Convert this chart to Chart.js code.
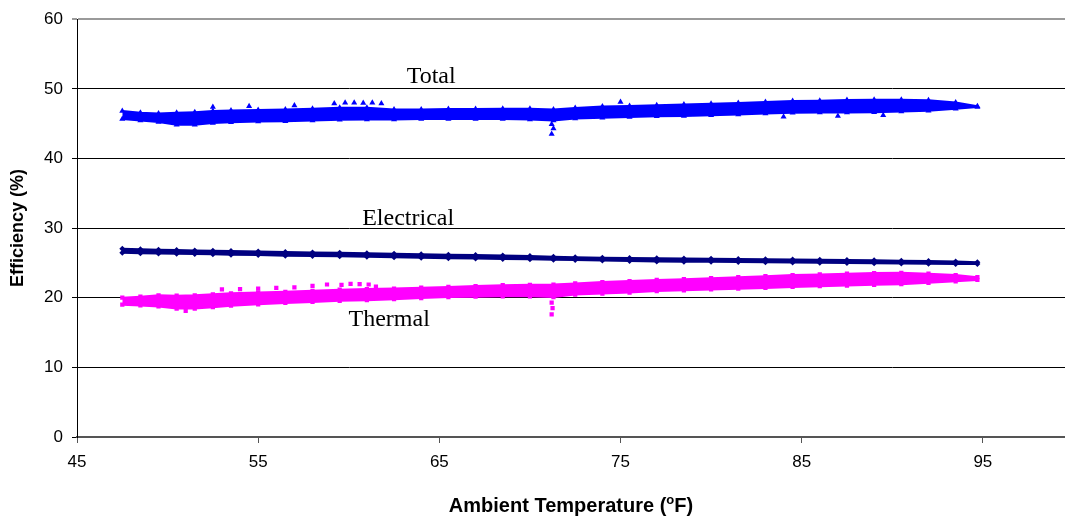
<!DOCTYPE html>
<html><head><meta charset="utf-8">
<script src="https://cdn.jsdelivr.net/npm/chart.js@4/dist/chart.umd.min.js"></script>
<style>html,body{margin:0;padding:0;background:#fff;overflow:hidden}#wrap{width:1065px;height:518px;position:relative;overflow:hidden}canvas{display:block}</style>
</head><body><div id="wrap"><canvas id="c" width="1168" height="518"></canvas></div>
<script>
// Tick labels (axis runs 45..105, the picture is cropped just before 100)
const xTickValues = [45, 55, 65, 75, 85, 95, 105];
const yTickValues = [0, 10, 20, 30, 40, 50, 60];

// Ambient temperature sample positions (°F) along the bands
const xs = [47.5, 48.5, 49.5, 50.5, 51.5, 52.5, 53.5, 55, 56.5, 58, 59.5, 61, 62.5, 64, 65.5, 67, 68.5, 70, 71.3, 72.5, 74, 75.5, 77, 78.5, 80, 81.5, 83, 84.5, 86, 87.5, 89, 90.5, 92, 93.5, 94.7];

// Total efficiency band (upper / lower edge, %)
const totalHi = [46.8, 46.55, 46.45, 46.55, 46.65, 46.8, 46.9, 46.95, 47.05, 47.15, 47.3, 47.3, 47.05, 47.05, 47.1, 47.1, 47.15, 47.15, 47.05, 47.25, 47.45, 47.55, 47.65, 47.75, 47.85, 47.95, 48.1, 48.25, 48.3, 48.4, 48.45, 48.45, 48.35, 48.05, 47.5];
const totalLo = [45.65, 45.45, 45.25, 44.85, 44.85, 45.1, 45.2, 45.3, 45.35, 45.45, 45.55, 45.6, 45.6, 45.65, 45.65, 45.65, 45.65, 45.6, 45.45, 45.75, 45.85, 45.95, 46.05, 46.1, 46.2, 46.3, 46.45, 46.55, 46.6, 46.6, 46.65, 46.75, 46.85, 47.15, 47.4];
const totalOutX = [52.5, 54.5, 57, 59.2, 59.8, 60.3, 60.8, 61.3, 61.8, 75, 84, 87, 89.5, 71.2, 71.3, 71.2];
const totalOutY = [47.4, 47.5, 47.6, 47.9, 48.0, 48.0, 47.95, 48.0, 47.9, 48.1, 46.0, 46.1, 46.2, 44.9, 44.3, 43.5];

// Electrical efficiency band (upper / lower edge, %)
const elecHi = [27.05, 26.95, 26.9, 26.85, 26.8, 26.75, 26.7, 26.63, 26.55, 26.5, 26.45, 26.4, 26.33, 26.25, 26.18, 26.12, 26.05, 26.0, 25.9, 25.83, 25.75, 25.7, 25.67, 25.63, 25.6, 25.57, 25.54, 25.5, 25.45, 25.41, 25.37, 25.32, 25.27, 25.22, 25.1];
const elecLo = [26.45, 26.4, 26.35, 26.33, 26.29, 26.23, 26.18, 26.12, 26.04, 25.99, 25.94, 25.9, 25.81, 25.75, 25.67, 25.62, 25.57, 25.53, 25.47, 25.41, 25.33, 25.27, 25.22, 25.18, 25.15, 25.12, 25.08, 25.05, 25.02, 24.99, 24.95, 24.92, 24.89, 24.86, 24.85];

// Thermal efficiency band (upper / lower edge, %)
const thermHi = [20.0, 20.15, 20.35, 20.3, 20.35, 20.5, 20.63, 20.75, 20.85, 21.0, 21.15, 21.25, 21.32, 21.45, 21.55, 21.67, 21.8, 21.85, 21.9, 22.05, 22.25, 22.4, 22.55, 22.67, 22.8, 22.95, 23.1, 23.25, 23.35, 23.45, 23.55, 23.57, 23.45, 23.25, 22.95];
const thermLo = [19.0, 18.9, 18.75, 18.45, 18.45, 18.65, 18.85, 19.05, 19.25, 19.4, 19.55, 19.65, 19.8, 19.95, 20.1, 20.15, 20.2, 20.2, 20.1, 20.45, 20.6, 20.75, 20.95, 21.07, 21.2, 21.3, 21.4, 21.55, 21.65, 21.75, 21.85, 21.95, 22.15, 22.35, 22.55];
const thermOutX = [53, 54, 55, 56, 57, 58, 58.8, 59.6, 60.1, 60.6, 61.1, 61.5, 51, 71.2, 71.25, 71.2];
const thermOutY = [21.2, 21.25, 21.3, 21.4, 21.5, 21.7, 21.9, 21.85, 22.0, 21.95, 21.9, 21.6, 18.1, 19.3, 18.5, 17.6];

const pts = (xArr, yArr) => yArr.map((y, i) => ({x: xArr[i], y}));

function band(label, hi, lo, outX, outY, color, style, r) {
  const sets = [
    {label: label + ' hi', data: pts(xs, hi), showLine: true, borderColor: color, backgroundColor: color,
     borderWidth: 2, pointStyle: style, pointRadius: r, pointBackgroundColor: color, pointBorderWidth: 0, fill: '+1', tension: 0},
    {label: label + ' lo', data: pts(xs, lo), showLine: true, borderColor: color, backgroundColor: color,
     borderWidth: 2, pointStyle: style, pointRadius: r, pointBackgroundColor: color, pointBorderWidth: 0, fill: false, tension: 0}
  ];
  if (outX) sets.push({label: label + ' pts', data: pts(outX, outY), showLine: false, pointStyle: style,
     pointRadius: r, backgroundColor: color, borderColor: color, pointBorderWidth: 0});
  return sets;
}

const VISIBLE_W = 1065;
const annot = {
  id: 'annot',
  afterDatasetsDraw(chart) {
    const {ctx, scales: {x, y}} = chart;
    const items = [['Total', 64.55, 51.7], ['Electrical', 63.28, 31.3], ['Thermal', 62.23, 16.86]];
    ctx.save();
    ctx.font = '24px "Liberation Serif", "Times New Roman", serif';
    ctx.fillStyle = '#000';
    ctx.textAlign = 'center';
    ctx.textBaseline = 'middle';
    items.forEach(([t, vx, vy]) => ctx.fillText(t, x.getPixelForValue(vx), y.getPixelForValue(vy)));
    ctx.restore();
  },
  afterDraw(chart) {
    // x-axis title with superscript "o", centred on the visible part of the axis
    const {ctx, scales: {x}} = chart;
    const mainFont = 'bold 20px "Liberation Sans", Arial, sans-serif';
    const supFont = 'bold 13px "Liberation Sans", Arial, sans-serif';
    const a = 'Ambient Temperature (', s = 'o', b = 'F)';
    ctx.save();
    ctx.fillStyle = '#000';
    ctx.textBaseline = 'alphabetic';
    ctx.textAlign = 'left';
    ctx.font = mainFont; const wa = ctx.measureText(a).width, wb = ctx.measureText(b).width;
    ctx.font = supFont; const ws = ctx.measureText(s).width;
    const cx = (x.left + VISIBLE_W) / 2;
    let px = cx - (wa + ws + wb) / 2;
    const base = 512;
    ctx.font = mainFont; ctx.fillText(a, px, base); px += wa;
    ctx.font = supFont; ctx.fillText(s, px, base - 8); px += ws;
    ctx.font = mainFont; ctx.fillText(b, px, base);
    ctx.restore();
  }
};

const tickFont = {family: '"Liberation Sans", Arial, sans-serif', size: 17};
const titleFont = {family: '"Liberation Sans", Arial, sans-serif', size: 18, weight: 'bold'};

new Chart(document.getElementById('c'), {
  type: 'scatter',
  data: {datasets: [
    ...band('Total', totalHi, totalLo, totalOutX, totalOutY, '#0000FF', 'triangle', 3.5),
    ...band('Electrical', elecHi, elecLo, null, null, '#000080', 'rectRot', 3),
    ...band('Thermal', thermHi, thermLo, thermOutX, thermOutY, '#FF00FF', 'rect', 3)
  ]},
  options: {
    responsive: false,
    animation: false,
    devicePixelRatio: 1,
    layout: {padding: {top: 17, right: 0, left: 0, bottom: 0}},
    plugins: {legend: {display: false}, tooltip: {enabled: false}},
    scales: {
      x: {
        type: 'linear', min: 45, max: 105,
        afterBuildTicks: s => { s.ticks = xTickValues.map(v => ({value: v})); },
        afterFit: s => { s.height = 81; s.paddingRight = 0; s.paddingLeft = 0; },
        ticks: {font: tickFont, color: '#000', padding: 9, maxRotation: 0, autoSkip: false},
        grid: {drawOnChartArea: false, drawTicks: true, tickLength: 6, color: '#555'},
        border: {color: '#555', width: 2},
        title: {display: false}
      },
      y: {
        min: 0, max: 60,
        afterBuildTicks: s => { s.ticks = yTickValues.map(v => ({value: v})); },
        afterFit: s => { s.width = 77; },
        ticks: {font: tickFont, color: '#000', padding: 9},
        grid: {drawTicks: true, tickLength: 5, color: c => (c.tick && c.tick.value === 60) ? '#9a9a9a' : '#000', lineWidth: c => (c.tick && c.tick.value === 60) ? 2 : 1},
        border: {color: '#000', width: 1},
        title: {display: true, text: 'Efficiency (%)', font: titleFont, color: '#000', padding: {top: 7, bottom: 7}}
      }
    }
  },
  plugins: [annot]
});
</script>
</body></html>
